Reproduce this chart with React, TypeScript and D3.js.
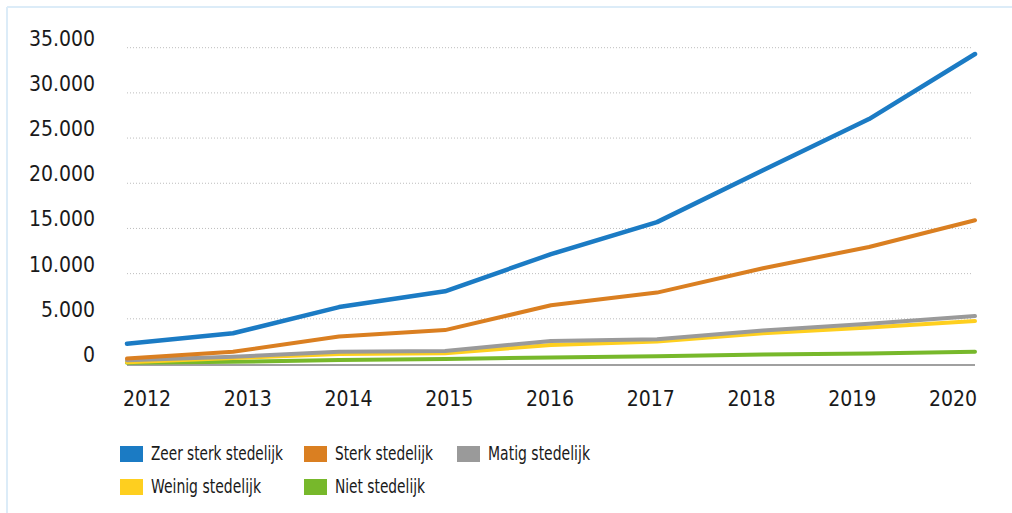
import React from 'react';
import * as d3 from 'd3';

const years = [2012, 2013, 2014, 2015, 2016, 2017, 2018, 2019, 2020];
const yTicks = [0, 5000, 10000, 15000, 20000, 25000, 30000, 35000];

const zeerSterk = [2250, 3400, 6300, 8050, 12150, 15700, 21450, 27100, 34300];
const sterk = [600, 1350, 3050, 3750, 6500, 7900, 10600, 12950, 15900];
const matig = [420, 800, 1350, 1450, 2550, 2750, 3700, 4450, 5300];
const weinig = [200, 650, 1100, 1200, 2100, 2500, 3400, 4050, 4750];
const niet = [130, 250, 430, 540, 730, 850, 1050, 1150, 1350];

const seriesNames = ['Zeer sterk stedelijk', 'Sterk stedelijk', 'Matig stedelijk', 'Weinig stedelijk', 'Niet stedelijk'];
const seriesValues = [zeerSterk, sterk, matig, weinig, niet];
const colors = ['#1b7bc4', '#da7f21', '#9a9a9a', '#fecf1f', '#77b82b'];

const font = "'Liberation Sans Narrow', 'DejaVu Sans Condensed', sans-serif";

export default function App() {
  const width = 1012;
  const height = 513;

  // data positions and label positions differ slightly in the original
  const x = d3.scalePoint<number>().domain(years).range([127, 975]);
  const xLabel = d3.scalePoint<number>().domain(years).range([147, 953]);
  const y = d3.scaleLinear().domain([0, 35000]).range([364, 47.7]);

  const line = d3.line<number>()
    .x((_, i) => x(years[i]) as number)
    .y(d => y(d));

  const fmt = d3.format(',');
  const label = (v: number) => fmt(v).replace(/,/g, '.');

  // legend layout: swatch position and rendered text width
  const legendPos = [
    [120, 446, 132], [304, 446, 98], [457, 446, 102],
    [120, 479, 110], [304, 479, 90],
  ];

  return (
    <svg width={width} height={height} style={{ position: 'absolute', left: 0, top: 0, background: '#fff' }}>
      {/* frame */}
      <line x1={7} x2={7} y1={7} y2={height} stroke="#dcecf8" strokeWidth={2} />
      <line x1={7} x2={width} y1={7} y2={7} stroke="#dcecf8" strokeWidth={2} />

      {/* grid */}
      {yTicks.filter(t => t > 0).map(t => (
        <line key={t} x1={127} x2={973} y1={y(t)} y2={y(t)}
          stroke="#bdbdbd" strokeWidth={1} strokeDasharray="1,2" />
      ))}
      <line x1={127} x2={975} y1={y(0) + 1} y2={y(0) + 1} stroke="#a0a0a0" strokeWidth={2} />

      {/* y labels */}
      {yTicks.map(t => (
        <text key={t} x={95} y={y(t) - 8} textAnchor="end" dominantBaseline="middle"
          fontFamily={font} fontSize={21} fill="#1a1a1a">{label(t)}</text>
      ))}

      {/* x labels */}
      {years.map(yr => (
        <text key={yr} x={xLabel(yr)} y={400} textAnchor="middle" dominantBaseline="middle"
          fontFamily={font} fontSize={21} fill="#1a1a1a">{yr}</text>
      ))}

      {/* lines, last series drawn first */}
      {seriesValues.map((vals, i) => ({ vals, i })).reverse().map(({ vals, i }) => (
        <path key={i} d={line(vals) ?? ''} fill="none" stroke={colors[i]}
          strokeWidth={i === 0 ? 4.5 : 4} strokeLinejoin="round" strokeLinecap="round" />
      ))}

      {/* legend */}
      {seriesNames.map((name, i) => (
        <g key={name} transform={`translate(${legendPos[i][0]},${legendPos[i][1]})`}>
          <rect width={23} height={16} fill={colors[i]} />
          <text x={31} y={8} dominantBaseline="middle" fontFamily={font} fontSize={20} fill="#1a1a1a"
            textLength={legendPos[i][2]} lengthAdjust="spacingAndGlyphs">{name}</text>
        </g>
      ))}
    </svg>
  );
}
